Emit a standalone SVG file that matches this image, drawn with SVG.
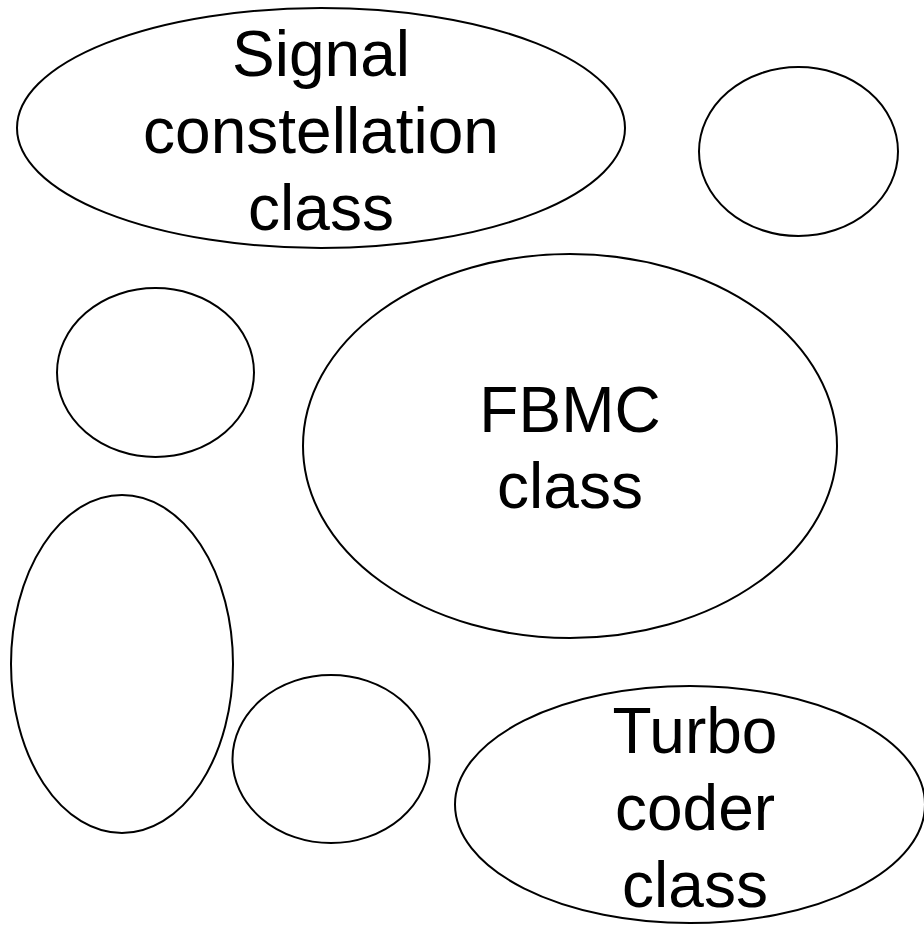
<svg xmlns="http://www.w3.org/2000/svg" width="924" height="926" viewBox="0 0 924 926">
<style>
.n{fill:#fff;stroke:#000;stroke-width:2}
.t{font-family:"Liberation Sans",Arial,sans-serif;font-size:64px;fill:#000;text-anchor:middle}
</style>
<rect width="924" height="926" fill="#fff"/>
<g id="connectors"></g>
<g id="signal">
<ellipse class="n" cx="321" cy="128" rx="304" ry="120"/>
<text class="t" x="321" y="76">Signal</text>
<text class="t" x="321" y="153">constellation</text>
<text class="t" x="321" y="230">class</text>
</g>
<g id="circle-top-right"><ellipse class="n" cx="798.5" cy="151.5" rx="99.5" ry="84.5"/></g>
<g id="circle-left"><ellipse class="n" cx="155.5" cy="372.5" rx="98.5" ry="84.5"/></g>
<g id="fbmc">
<ellipse class="n" cx="570" cy="446" rx="267" ry="192"/>
<text class="t" x="570" y="432">FBMC</text>
<text class="t" x="570" y="508">class</text>
</g>
<g id="tall-ellipse"><ellipse class="n" cx="122" cy="664" rx="111" ry="169"/></g>
<g id="circle-bottom"><ellipse class="n" cx="331" cy="759" rx="98.5" ry="84"/></g>
<g id="turbo">
<ellipse class="n" cx="690" cy="804.5" rx="235" ry="118.5"/>
<text class="t" x="695" y="753">Turbo</text>
<text class="t" x="695" y="830">coder</text>
<text class="t" x="695" y="907">class</text>
</g>
</svg>
